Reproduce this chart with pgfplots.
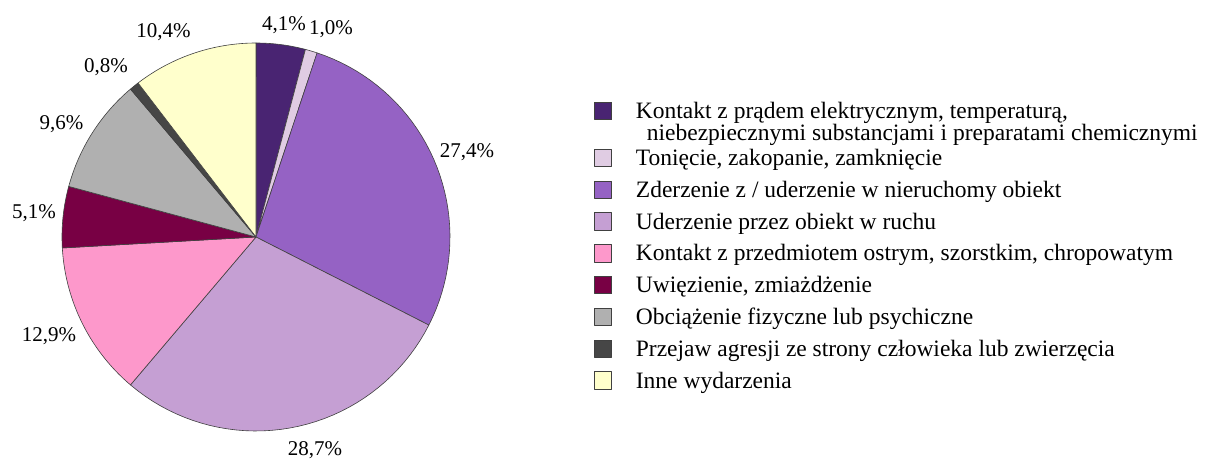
\documentclass[border=0pt]{standalone}
\usepackage{fontspec}
\setmainfont{Liberation Serif}
\usepackage{pgfplots}
\pgfplotsset{compat=1.18}
\definecolor{c1}{HTML}{492472}
\definecolor{c2}{HTML}{E0CCE3}
\definecolor{c3}{HTML}{9562C4}
\definecolor{c4}{HTML}{C59FD3}
\definecolor{c5}{HTML}{FD98CB}
\definecolor{c6}{HTML}{780044}
\definecolor{c7}{HTML}{B0B0B0}
\definecolor{c8}{HTML}{464646}
\definecolor{c9}{HTML}{FFFFCC}
\definecolor{edge}{HTML}{404040}
\newcommand\fs{\fontsize{23.5pt}{26pt}\selectfont}
\newcommand\fl{\fontsize{21pt}{24pt}\selectfont}
% pie: centre (256,221), radius 194, slice bounds in cumulative percent
\newcommand\pcx{256}
\newcommand\pcy{221}
\newcommand\pr{194}
\begin{document}
\begin{tikzpicture}
\begin{axis}[
  scale only axis, width=1218pt, height=458pt,
  xmin=0, xmax=1218, ymin=0, ymax=458,
  hide axis, clip=false,
  legend image code/.code={\draw[#1, line width=0.6pt] (0pt,-1pt) rectangle (17pt,16.5pt);},
  legend style={at={(axis cs:594.3,356)}, anchor=north west, draw=none, fill=none,
    inner sep=0pt, outer sep=0pt, row sep=9pt, column sep=24pt,
    font=\fs, cells={anchor=base west},
    nodes={inner sep=0pt, text height=16pt, text depth=6pt}},
  every axis plot/.append style={line width=0.6pt, draw=edge, samples=40, line join=round},
]
% 4.1
\addplot[fill=c1, domain=0:4.1] ({\pcx+\pr*cos(90-3.6*x)},{\pcy+\pr*sin(90-3.6*x)}) -- (axis cs:256,221) -- cycle;
\addlegendentry[text depth=21pt]{\rlap{\raisebox{-21.5pt}[0pt][0pt]{\hspace{11pt}niebezpiecznymi substancjami i preparatami chemicznymi}}Kontakt z prądem elektrycznym, temperaturą,}
% 1.0
\addplot[fill=c2, domain=4.1:5.1] ({\pcx+\pr*cos(90-3.6*x)},{\pcy+\pr*sin(90-3.6*x)}) -- (axis cs:256,221) -- cycle;
\addlegendentry{Tonięcie, zakopanie, zamknięcie}
% 27.4
\addplot[fill=c3, domain=5.1:32.5] ({\pcx+\pr*cos(90-3.6*x)},{\pcy+\pr*sin(90-3.6*x)}) -- (axis cs:256,221) -- cycle;
\addlegendentry{Zderzenie z / uderzenie w nieruchomy obiekt}
% 28.7
\addplot[fill=c4, domain=32.5:61.2] ({\pcx+\pr*cos(90-3.6*x)},{\pcy+\pr*sin(90-3.6*x)}) -- (axis cs:256,221) -- cycle;
\addlegendentry{Uderzenie przez obiekt w ruchu}
% 12.9
\addplot[fill=c5, domain=61.2:74.1] ({\pcx+\pr*cos(90-3.6*x)},{\pcy+\pr*sin(90-3.6*x)}) -- (axis cs:256,221) -- cycle;
\addlegendentry{Kontakt z przedmiotem ostrym, szorstkim, chropowatym}
% 5.1
\addplot[fill=c6, domain=74.1:79.2] ({\pcx+\pr*cos(90-3.6*x)},{\pcy+\pr*sin(90-3.6*x)}) -- (axis cs:256,221) -- cycle;
\addlegendentry{Uwięzienie, zmiażdżenie}
% 9.6
\addplot[fill=c7, domain=79.2:88.8] ({\pcx+\pr*cos(90-3.6*x)},{\pcy+\pr*sin(90-3.6*x)}) -- (axis cs:256,221) -- cycle;
\addlegendentry{Obciążenie fizyczne lub psychiczne}
% 0.8
\addplot[fill=c8, domain=88.8:89.6] ({\pcx+\pr*cos(90-3.6*x)},{\pcy+\pr*sin(90-3.6*x)}) -- (axis cs:256,221) -- cycle;
\addlegendentry{Przejaw agresji ze strony człowieka lub zwierzęcia}
% 10.4
\addplot[fill=c9, domain=89.6:100] ({\pcx+\pr*cos(90-3.6*x)},{\pcy+\pr*sin(90-3.6*x)}) -- (axis cs:256,221) -- cycle;
\addlegendentry{Inne wydarzenia}

\begin{scope}[every node/.style={font=\fl, anchor=base, inner sep=0pt}]
\node at (axis cs:284,427.3) {4,1\%};
\node at (axis cs:331,423) {1,0\%};
\node at (axis cs:467,300) {27,4\%};
\node at (axis cs:315,3) {28,7\%};
\node at (axis cs:49,116) {12,9\%};
\node at (axis cs:34,239) {5,1\%};
\node at (axis cs:61.5,328) {9,6\%};
\node at (axis cs:106,385.3) {0,8\%};
\node at (axis cs:163.5,420.7) {10,4\%};
\end{scope}
\end{axis}
\pgfresetboundingbox
\path[use as bounding box] (current axis.south west) rectangle (current axis.north east);
\end{tikzpicture}
\end{document}
